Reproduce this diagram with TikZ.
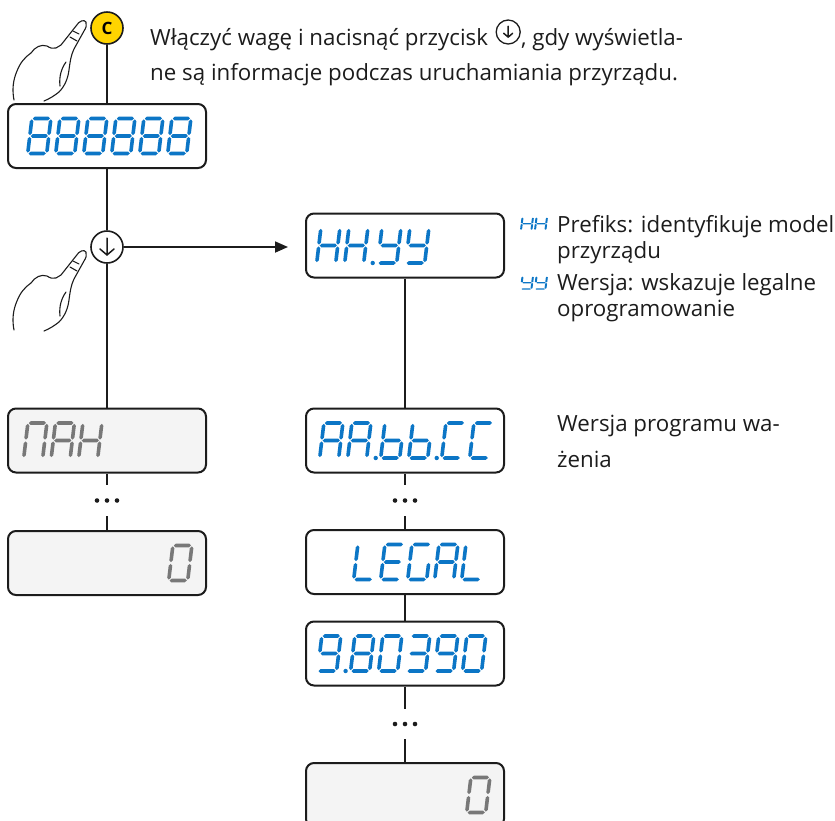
\documentclass[tikz,border=0pt]{standalone}
\usepackage{fontspec}
\setmainfont{Open Sans}
\usetikzlibrary{arrows.meta}

\definecolor{segblue}{RGB}{12,118,198}
\definecolor{seggray}{RGB}{120,120,120}
\definecolor{lcdgray}{RGB}{244,244,244}
\definecolor{btnyellow}{RGB}{255,212,0}
\definecolor{ink}{RGB}{28,28,28}

% seven-segment geometry: cell 19 wide, 35 high, origin at the bottom left
\def\sevsegA{(0.9,35) -- (2.7,36.8) -- (16.3,36.8) -- (18.1,35) -- (16.3,33.2) -- (2.7,33.2) -- cycle}
\def\sevsegG{(0.9,17.5) -- (2.7,19.3) -- (16.3,19.3) -- (18.1,17.5) -- (16.3,15.7) -- (2.7,15.7) -- cycle}
\def\sevsegD{(0.9,0) -- (2.7,1.8) -- (16.3,1.8) -- (18.1,0) -- (16.3,-1.8) -- (2.7,-1.8) -- cycle}
\def\sevsegF{(0,18.4) -- (1.8,20.2) -- (1.8,32.3) -- (0,34.1) -- (-1.8,32.3) -- (-1.8,20.2) -- cycle}
\def\sevsegE{(0,0.9) -- (1.8,2.7) -- (1.8,14.8) -- (0,16.6) -- (-1.8,14.8) -- (-1.8,2.7) -- cycle}
\def\sevsegB{(19,18.4) -- (20.8,20.2) -- (20.8,32.3) -- (19,34.1) -- (17.2,32.3) -- (17.2,20.2) -- cycle}
\def\sevsegC{(19,0.9) -- (20.8,2.7) -- (20.8,14.8) -- (19,16.6) -- (17.2,14.8) -- (17.2,2.7) -- cycle}

% glyphs as lists of lit segments
\newcommand\lcdEight{A,B,C,D,E,F,G}
\newcommand\lcdH{B,C,E,F,G}
\newcommand\lcdY{B,C,D,F,G}
\newcommand\lcdA{A,B,C,E,F,G}
\newcommand\lcdb{C,D,E,F,G}
\newcommand\lcdC{A,D,E,F}
\newcommand\lcdL{D,E,F}
\newcommand\lcdE{A,D,E,F,G}
\newcommand\lcdG{A,C,D,E,F}
\newcommand\lcdNine{A,B,C,D,F,G}
\newcommand\lcdZero{A,B,C,D,E,F}
\newcommand\lcdThree{A,B,C,D,G}
\newcommand\lcdN{A,B,C,E,F}

% \sevdigit[options]{x}{baseline y}{glyph}
\newcommand\sevdigit[4][]{%
  \begin{scope}[shift={(#2,#3)},x=1pt,y=1pt,xslant=0.12,#1]
    \foreach \s in #4 {\expandafter\fill\csname sevseg\s\endcsname;}
  \end{scope}}
% decimal point after the cell that starts at x
\newcommand\sevdot[3][]{\fill[#1] (#2+28,#3) circle (2.2);}

\tikzset{
  lcd/.style={draw=ink, line width=2pt, rounded corners=8pt, fill=white,
    minimum width=198pt, minimum height=64pt, inner sep=0pt},
  lcdoff/.style={lcd, fill=lcdgray},
  btn/.style={circle, draw=ink, line width=1.6pt, minimum size=32pt,
    inner sep=0pt, fill=white},
  conn/.style={draw=ink, line width=1.8pt},
  txt/.style={text=ink, font=\fontsize{22.3}{26}\selectfont, inner sep=0pt,
    anchor=base west},
  dnarrow/.pic={\draw[ink, line width=1.5pt, line cap=round, line join=round]
    (0,-9) -- (0,8) (-7,2) -- (0,8) -- (7,2);},
  hand/.pic={
    \draw[ink, line width=1.1pt, line join=round, line cap=round, fill=white]
      (14,100) .. controls (12,90) and (13,80) .. (17,71)
      .. controls (20,63) and (25,57) .. (31,53)
      .. controls (35,47) and (41,44) .. (47,46)
      .. controls (50,48) and (53,49) .. (56,48)
      .. controls (58,47) and (59,46) .. (61,45)
      -- (76,26)
      .. controls (79,21) and (84,19) .. (86,22)
      .. controls (87,25) and (86,28) .. (84,31)
      -- (74,49)
      .. controls (71,55) and (70,62) .. (69,70)
      .. controls (68,78) and (65,86) .. (59,92)
      .. controls (54,96) and (49,99) .. (44,101);
    \draw[ink, line width=1.1pt, line cap=round]
      (66,62) .. controls (61,69) and (59,77) .. (60,86)
      (73,31) -- (79,34) (70,37) -- (77,41);}
}

\begin{document}
\begin{tikzpicture}[x=1pt, y=-1pt]
\useasboundingbox (0,0) rectangle (835,820);

% ---------- left column ----------
\pic at (0,0) {hand};
\node[btn, fill=btnyellow, font=\fontsize{17}{17}\selectfont\bfseries] (c) at (107,28) {C};
\node[lcd] (d1) at (107,136) {};
\node[btn] (down) at (107,247) {};
\pic at (down) {dnarrow};
\pic at (0,230) {hand};
\node[lcdoff] (nah) at (107,440.5) {};
\node[lcdoff] (zl) at (107,563) {};

\coordinate (g1a) at (107,485);
\coordinate (g1b) at (107,516);
\draw[conn] (c) -- (d1);
\draw[conn] (d1) -- (down);
\draw[conn] (down) -- (nah);
\draw[conn] (nah) -- (g1a);
\draw[conn] (g1b) -- (zl);
\foreach \dx in {-10,0,10} \fill[ink] (107+\dx,500.5) circle (2.3);

% ---------- right column ----------
\node[lcd] (hh) at (405,245.5) {};
\node[lcd] (aa) at (405,440.5) {};
\node[lcd] (legal) at (405,562) {};
\node[lcd] (nine) at (405,653.5) {};
\node[lcdoff] (zr) at (405,795) {};

\coordinate (tip) at (288,247);
\draw[conn, -{Triangle[length=13pt, width=11pt]}] (down) -- (tip);
\coordinate (g2a) at (405,485);
\coordinate (g2b) at (405,516);
\coordinate (g3a) at (405,709);
\coordinate (g3b) at (405,739);
\draw[conn] (hh) -- (aa);
\draw[conn] (aa) -- (g2a);
\draw[conn] (g2b) -- (legal);
\draw[conn] (legal) -- (nine);
\draw[conn] (nine) -- (g3a);
\draw[conn] (g3b) -- (zr);
\foreach \dx in {-10,0,10} {
  \fill[ink] (405+\dx,500.5) circle (2.3);
  \fill[ink] (405+\dx,724) circle (2.3);
}

% ---------- display readouts ----------
\foreach \i in {0,...,5} {\sevdigit[fill=segblue]{27.7+28*\i}{153.5}{\lcdEight}}

\sevdigit[fill=segblue]{316.7}{263}{\lcdH}
\sevdigit[fill=segblue]{344.7}{263}{\lcdH}
\sevdot[segblue]{344.7}{263}
\sevdigit[fill=segblue]{377.7}{263}{\lcdY}
\sevdigit[fill=segblue]{405.7}{263}{\lcdY}

\sevdigit[fill=seggray]{23.7}{458}{\lcdN}
\sevdigit[fill=seggray]{51.2}{458}{\lcdA}
\sevdigit[fill=seggray]{78.7}{458}{\lcdH}

\sevdigit[fill=seggray]{168.7}{580.5}{\lcdZero}

\sevdigit[fill=segblue]{319.7}{458}{\lcdA}
\sevdigit[fill=segblue]{347.7}{458}{\lcdA}
\sevdot[segblue]{347.7}{458}
\sevdigit[fill=segblue]{380.7}{458}{\lcdb}
\sevdigit[fill=segblue]{408.7}{458}{\lcdb}
\sevdot[segblue]{408.7}{458}
\sevdigit[fill=segblue]{441.7}{458}{\lcdC}
\sevdigit[fill=segblue]{469.7}{458}{\lcdC}

\sevdigit[fill=segblue]{353.7}{579.5}{\lcdL}
\sevdigit[fill=segblue]{380.7}{579.5}{\lcdE}
\sevdigit[fill=segblue]{407.7}{579.5}{\lcdG}
\sevdigit[fill=segblue]{434.7}{579.5}{\lcdA}
\sevdigit[fill=segblue]{461.7}{579.5}{\lcdL}

\sevdigit[fill=segblue]{317.6}{671}{\lcdNine}
\sevdot[segblue]{317.6}{671}
\sevdigit[fill=segblue]{350.6}{671}{\lcdEight}
\sevdigit[fill=segblue]{378.6}{671}{\lcdZero}
\sevdigit[fill=segblue]{406.6}{671}{\lcdThree}
\sevdigit[fill=segblue]{434.6}{671}{\lcdNine}
\sevdigit[fill=segblue]{462.6}{671}{\lcdZero}

\sevdigit[fill=seggray]{466.7}{812.5}{\lcdZero}

% ---------- texts ----------
\node[txt] (t1) at (150,45) {Włączyć wagę i nacisnąć przycisk};
\path (t1.base east) ++(20,0) coordinate (tix);
\coordinate (tiy) at (0,32);
\node[circle, draw=ink, line width=1.3pt, minimum size=24pt, inner sep=0pt] (ti) at (tix |- tiy) {};
\pic[scale=0.64] at (ti) {dnarrow};
\node[txt] (t2) at (ti.east |- t1.base) {, gdy wyświetla-};
\node[txt] (t3) at (150,80) {ne są informacje podczas uruchamiania przyrządu.};

\sevdigit[fill=segblue, xscale=0.55, yscale=0.36]{521}{230}{\lcdH}
\sevdigit[fill=segblue, xscale=0.55, yscale=0.36]{535}{230}{\lcdH}
\sevdigit[fill=segblue, xscale=0.55, yscale=0.36]{521}{289}{\lcdY}
\sevdigit[fill=segblue, xscale=0.55, yscale=0.36]{535}{289}{\lcdY}
\node[txt] (l1) at (557,232) {Prefiks: identyfikuje model};
\node[txt] (l2) at (557,258) {przyrządu};
\node[txt] (l3) at (557,290) {Wersja: wskazuje legalne};
\node[txt] (l4) at (557,316) {oprogramowanie};

\node[txt] (w1) at (557,431) {Wersja programu wa-};
\node[txt] (w2) at (557,467) {żenia};
\end{tikzpicture}
\end{document}
